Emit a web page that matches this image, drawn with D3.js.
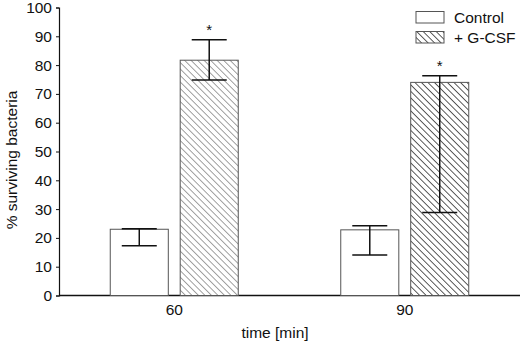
<!DOCTYPE html>
<html>
<head>
<meta charset="utf-8">
<script src="https://cdn.jsdelivr.net/npm/d3@7"></script>
<style>
  body { margin: 0; background: #fff; }
  text { font-family: "Liberation Sans", Arial, sans-serif; fill: #111; }
</style>
</head>
<body>
<div id="chart"></div>
<script>
// data
const times = ["60", "90"];
const series = ["Control", "+ G-CSF"];
const means = { "Control": [23, 22.8], "+ G-CSF": [81.7, 74] };
const errLow = { "Control": [17.3, 14.1], "+ G-CSF": [74.8, 28.8] };
const errHigh = { "Control": [23.2, 24.2], "+ G-CSF": [88.8, 76.3] };
const starred = { "Control": [false, false], "+ G-CSF": [true, true] };
const yTicks = [0, 10, 20, 30, 40, 50, 60, 70, 80, 90, 100];

let width = 520, height = 344,
    margin = { top: 7.5, left: 59, right: 0, bottom: 48.5 },
    fs = "15.5px";

let svg = d3.select("#chart").append("svg")
  .attr("width", width)
  .attr("height", height);

// hatch patterns (the 60 min bar prints lighter than the 90 min one)
let defs = svg.append("defs");
[["hatch-light", "#8a8a8a"], ["hatch-dark", "#333"]].forEach(([id, col]) => {
  let p = defs.append("pattern")
    .attr("id", id)
    .attr("patternUnits", "userSpaceOnUse")
    .attr("width", 4.6).attr("height", 4.6)
    .attr("patternTransform", "rotate(-45)");
  p.append("rect").attr("width", 4.6).attr("height", 4.6).attr("fill", "#fff");
  p.append("line")
    .attr("x1", 0).attr("y1", 0).attr("x2", 0).attr("y2", 4.6)
    .attr("stroke", col).attr("stroke-width", 1.6);
});
const fillFor = (s, i) => s === "Control" ? "#fff" : (i === 0 ? "url(#hatch-light)" : "url(#hatch-dark)");

let y = d3.scaleLinear().domain([0, 100]).range([height - margin.bottom, margin.top]);
let x0 = d3.scaleBand().domain(times).range([margin.left, width]);
let x1 = d3.scaleBand().domain(series).range([-64, 64]).paddingInner(0.17);

// axes
let yAxis = svg.append("g")
  .attr("transform", `translate(${margin.left},0)`)
  .call(d3.axisLeft(y).tickValues(yTicks).tickSize(3).tickPadding(4));
yAxis.select(".domain").attr("stroke", "#111").attr("stroke-width", 1.2);
yAxis.selectAll(".tick line").attr("stroke", "#111");
yAxis.selectAll("text").style("font-size", fs).attr("fill", "#111");

svg.append("line")
  .attr("x1", margin.left).attr("x2", width)
  .attr("y1", y(0)).attr("y2", y(0))
  .attr("stroke", "#111").attr("stroke-width", 1.4);

let cx = t => x0(t) + x0.bandwidth() / 2;

svg.selectAll("text.xlab")
  .data(times)
  .join("text")
  .attr("class", "xlab")
  .attr("x", t => cx(t))
  .attr("y", y(0) + 19)
  .attr("text-anchor", "middle")
  .style("font-size", fs)
  .text(t => t);

svg.append("text")
  .attr("x", 275).attr("y", 338)
  .attr("text-anchor", "middle")
  .style("font-size", fs)
  .text("time [min]");

svg.append("text")
  .attr("transform", "translate(16.5,160) rotate(-90)")
  .attr("text-anchor", "middle")
  .style("font-size", fs)
  .text("% surviving bacteria");

// bars
let rows = [];
series.forEach(s => times.forEach((t, i) => rows.push({
  s, t, i, v: means[s][i], lo: errLow[s][i], hi: errHigh[s][i], star: starred[s][i]
})));

let g = svg.append("g");
g.selectAll("rect.bar")
  .data(rows)
  .join("rect")
  .attr("class", "bar")
  .attr("x", d => cx(d.t) + x1(d.s))
  .attr("width", x1.bandwidth())
  .attr("y", d => y(d.v))
  .attr("height", d => y(0) - y(d.v))
  .attr("fill", d => fillFor(d.s, d.i))
  .attr("stroke", "#555")
  .attr("stroke-width", 1);

// error bars
let eb = g.selectAll("g.err").data(rows).join("g").attr("class", "err")
  .attr("transform", d => `translate(${cx(d.t) + x1(d.s) + x1.bandwidth() / 2},0)`);
eb.append("line").attr("y1", d => y(d.lo)).attr("y2", d => y(d.hi))
  .attr("stroke", "#111").attr("stroke-width", 1.5);
eb.selectAll("line.cap")
  .data(d => [d.lo, d.hi])
  .join("line").attr("class", "cap")
  .attr("x1", -17.5).attr("x2", 17.5)
  .attr("y1", v => y(v)).attr("y2", v => y(v))
  .attr("stroke", "#111").attr("stroke-width", 1.5);

g.selectAll("text.star")
  .data(rows.filter(d => d.star))
  .join("text")
  .attr("class", "star")
  .attr("x", d => cx(d.t) + x1(d.s) + x1.bandwidth() / 2)
  .attr("y", d => y(d.hi) - 5)
  .attr("text-anchor", "middle")
  .style("font-size", "15px")
  .text("*");

// legend
let leg = svg.append("g").attr("transform", "translate(416,11.5)");
let li = leg.selectAll("g").data(series).join("g")
  .attr("transform", (d, i) => `translate(0,${i * 20})`);
li.append("rect")
  .attr("width", 28).attr("height", 11.5)
  .attr("fill", d => d === "Control" ? "#fff" : "url(#hatch-dark)")
  .attr("stroke", "#555");
li.append("text")
  .attr("x", 38).attr("y", 11.5)
  .style("font-size", fs)
  .text(d => d);
</script>
</body>
</html>
